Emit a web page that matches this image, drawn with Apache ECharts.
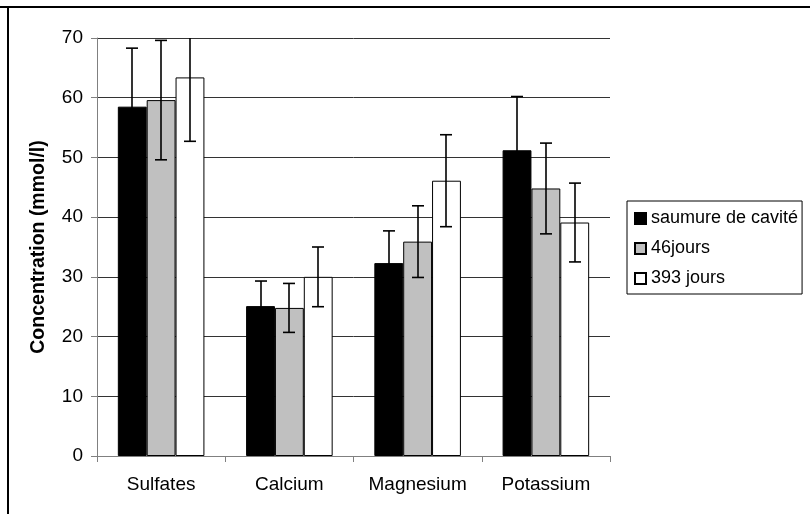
<!DOCTYPE html>
<html>
<head>
<meta charset="utf-8">
<script src="https://cdn.jsdelivr.net/npm/echarts@6/dist/echarts.min.js"></script>
<style>html,body{margin:0;padding:0;background:#fff}#c{width:810px;height:514px}</style>
</head>
<body>
<div id="c"></div>
<script>
var categories = ['Sulfates', 'Calcium', 'Magnesium', 'Potassium'];
var seriesNames = ['saumure de cavité', '46jours', '393 jours'];
var saumure = [58.5, 25.1, 32.3, 51.2];
var saumureErr = [9.8, 4.2, 5.4, 9.0];
var jours46 = [59.6, 24.8, 35.9, 44.8];
var jours46Err = [10.0, 4.1, 6.0, 7.6];
var jours393 = [63.4, 30.0, 46.1, 39.1];
var jours393Err = [10.7, 5.0, 7.7, 6.6];
var yTicks = [0, 10, 20, 30, 40, 50, 60, 70];

var values = [saumure, jours46, jours393];
var errors = [saumureErr, jours46Err, jours393Err];
var colors = ['#000000', '#c0c0c0', '#ffffff'];
var FONT = '"Liberation Sans", Arial, sans-serif';
var BAR_FRAC = 0.225;

var chart = echarts.init(document.getElementById('c'), null, {renderer: 'canvas'});

var series = [];
values.forEach(function (vals, si) {
  series.push({
    name: seriesNames[si],
    type: 'bar',
    data: vals,
    barWidth: (BAR_FRAC * 100) + '%',
    barGap: '0%',
    itemStyle: {color: colors[si], borderColor: '#000', borderWidth: 1},
    emphasis: {disabled: true},
    z: 2
  });
});
values.forEach(function (vals, si) {
  var d = vals.map(function (v, i) { return [i, v, errors[si][i]]; });
  series.push({
    type: 'custom',
    name: seriesNames[si] + ' err',
    data: d,
    clip: true,
    z: 5,
    silent: true,
    renderItem: function (params, api) {
      var ci = api.value(0), v = api.value(1), e = api.value(2);
      var band = api.size([1, 0])[0];
      var off = (si - 1) * band * BAR_FRAC;
      var top = api.coord([ci, v + e]);
      var bot = api.coord([ci, v - e]);
      var x = Math.round(top[0] + off);
      var hw = 6;
      var st = {stroke: '#000', lineWidth: 1.6};
      return {
        type: 'group',
        children: [
          {type: 'line', shape: {x1: x, y1: top[1], x2: x, y2: bot[1]}, style: st},
          {type: 'line', shape: {x1: x - hw, y1: top[1], x2: x + hw, y2: top[1]}, style: st},
          {type: 'line', shape: {x1: x - hw, y1: bot[1], x2: x + hw, y2: bot[1]}, style: st}
        ]
      };
    }
  });
});

chart.setOption({
  animation: false,
  backgroundColor: '#fff',
  textStyle: {fontFamily: FONT},
  grid: {left: 97, right: 200, top: 38, bottom: 58, containLabel: false},
  legend: {
    orient: 'vertical',
    left: 627,
    top: 201,
    data: seriesNames,
    itemWidth: 11,
    itemHeight: 11,
    itemGap: 11,
    icon: 'rect',
    padding: [8, 4, 6, 7],
    borderColor: '#000',
    borderWidth: 1,
    textStyle: {fontFamily: FONT, fontSize: 18, lineHeight: 19, color: '#000'},
    selectedMode: false
  },
  xAxis: {
    type: 'category',
    data: categories,
    axisLine: {lineStyle: {color: '#808080', width: 1}},
    axisTick: {show: true, length: 6, lineStyle: {color: '#808080'}},
    axisLabel: {fontFamily: FONT, fontSize: 19, color: '#000', margin: 19},
    splitLine: {show: false}
  },
  yAxis: {
    type: 'value',
    min: yTicks[0],
    max: yTicks[yTicks.length - 1],
    interval: 10,
    name: 'Concentration (mmol/l)',
    nameLocation: 'middle',
    nameRotate: 90,
    nameGap: 48,
    nameTextStyle: {fontFamily: FONT, fontSize: 19.5, fontWeight: 'bold', color: '#000'},
    axisLine: {show: true, lineStyle: {color: '#808080', width: 1}},
    axisTick: {show: true, length: 6, lineStyle: {color: '#808080'}},
    axisLabel: {fontFamily: FONT, fontSize: 19, color: '#000', margin: 14},
    splitLine: {show: true, lineStyle: {color: '#333', width: 1}}
  },
  graphic: [
    {type: 'line', shape: {x1: 0, y1: 7, x2: 810, y2: 7}, style: {stroke: '#000', lineWidth: 2}},
    {type: 'line', shape: {x1: 8, y1: 7, x2: 8, y2: 514}, style: {stroke: '#000', lineWidth: 2}}
  ],
  series: series
});
</script>
</body>
</html>
